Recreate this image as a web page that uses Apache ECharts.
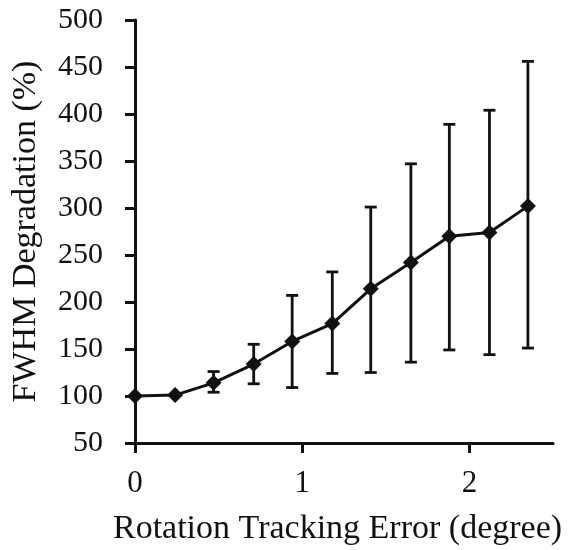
<!DOCTYPE html>
<html>
<head>
<meta charset="utf-8">
<script src="https://cdn.jsdelivr.net/npm/echarts@6/dist/echarts.min.js"></script>
<style>
    html, body { margin: 0; padding: 0; background: #ffffff; }
    #chart { width: 572px; height: 550px; }
</style>
</head>
<body>
<div id="chart"></div>
<script>
const trackingError = [0, 0.24, 0.47, 0.71, 0.94, 1.18, 1.41, 1.65, 1.88, 2.12, 2.35];
const degradation = [100, 101, 114, 134, 158, 177, 214, 242, 270, 274, 302];
const upperBound = [100, 101, 126, 155, 207, 232, 301, 347, 389, 404, 456];
const lowerBound = [100, 101, 104, 113, 109, 124, 125, 136, 149, 144, 151];
const xTicks = [0, 1, 2];

const FONT = "'Liberation Serif', 'Times New Roman', serif";
const INK = "#111111";

const lineData = trackingError.map((x, i) => [x, degradation[i]]);
const errorData = trackingError.map((x, i) => [x, lowerBound[i], upperBound[i]]);

function renderErrorBar(params, api) {
    const x = api.value(0);
    const low = api.coord([x, api.value(1)]);
    const high = api.coord([x, api.value(2)]);
    const capHalf = 6;
    const style = { stroke: INK, lineWidth: 2.8 };

    if (Math.abs(high[1] - low[1]) < 1) {
        return null;
    }

    return {
        type: "group",
        children: [
            { type: "line", shape: { x1: low[0], y1: low[1], x2: high[0], y2: high[1] }, style: style },
            { type: "line", shape: { x1: low[0] - capHalf, y1: low[1], x2: low[0] + capHalf, y2: low[1] }, style: style },
            { type: "line", shape: { x1: high[0] - capHalf, y1: high[1], x2: high[0] + capHalf, y2: high[1] }, style: style }
        ]
    };
}

const chart = echarts.init(document.getElementById("chart"));

chart.setOption({
    animation: false,
    backgroundColor: "#ffffff",
    grid: {
        left: 135,
        right: 19,
        top: 20,
        bottom: 107,
        outerBoundsMode: "none"
    },
    xAxis: {
        type: "value",
        min: 0,
        max: 2.5,
        interval: 1,
        name: "Rotation Tracking Error (degree)",
        nameLocation: "middle",
        nameGap: 69,
        nameTextStyle: {
            fontFamily: FONT,
            fontSize: 34,
            color: INK,
            padding: [0, 13, 0, 0]
        },
        axisLine: { lineStyle: { color: INK, width: 3 } },
        axisTick: {
            show: true,
            length: 10,
            customValues: xTicks,
            lineStyle: { color: INK, width: 3 }
        },
        axisLabel: {
            customValues: xTicks,
            margin: 25,
            fontFamily: FONT,
            fontSize: 31,
            color: INK
        },
        splitLine: { show: false }
    },
    yAxis: {
        type: "value",
        min: 50,
        max: 500,
        interval: 50,
        name: "FWHM Degradation (%)",
        nameLocation: "middle",
        nameGap: 92,
        nameTextStyle: {
            fontFamily: FONT,
            fontSize: 34,
            color: INK
        },
        axisLine: { show: true, lineStyle: { color: INK, width: 3 } },
        axisTick: {
            show: true,
            length: 10,
            lineStyle: { color: INK, width: 3 }
        },
        axisLabel: {
            margin: 32,
            fontFamily: FONT,
            fontSize: 30,
            color: INK
        },
        splitLine: { show: false }
    },
    series: [
        {
            type: "custom",
            renderItem: renderErrorBar,
            data: errorData,
            z: 2
        },
        {
            type: "line",
            data: lineData,
            symbol: "diamond",
            symbolSize: 16,
            lineStyle: { color: INK, width: 3 },
            itemStyle: { color: INK },
            z: 3
        }
    ]
});
</script>
</body>
</html>
